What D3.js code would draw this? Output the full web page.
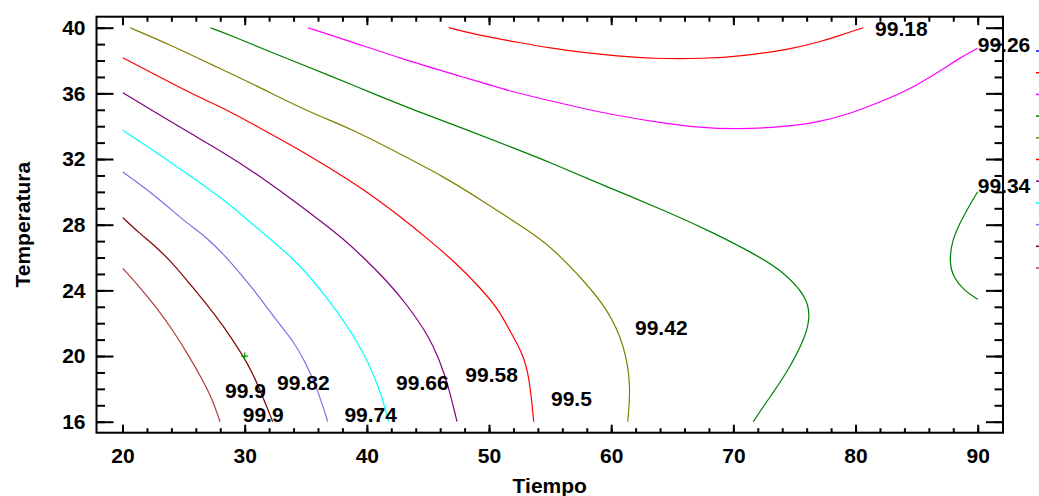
<!DOCTYPE html>
<html>
<head>
<meta charset="utf-8">
<script src="https://cdn.jsdelivr.net/npm/d3@7"></script>
<style>
  body { margin: 0; background: #fff; }
  svg { display: block; }
  text { font-family: "Liberation Sans", Arial, sans-serif; font-weight: bold; }
</style>
</head>
<body>
<svg id="chart" width="1039" height="496"></svg>
<script>
// contour levels and their colours (legend order, top to bottom)
let levels = [99.1, 99.18, 99.26, 99.34, 99.42, 99.5, 99.58, 99.66, 99.74, 99.82, 99.9];
let levelColors = ["#0000ff", "#ff0000", "#ff00ff", "#008000", "#808000", "#ff0000",
                   "#800080", "#00ffff", "#7474e4", "#800000", "#b03c3c"];

// contour lines, [Tiempo, Temperatura]
let c9918 = [[46.70,40.0],[49.48,39.49],[52.21,39.13],[55.07,38.75],[57.72,38.48],[60.45,38.28],
             [63.45,38.11],[67.54,38.11],[70.82,38.28],[74.64,38.68],[77.36,39.19],[79.0,39.60],[80.64,40.0]];
let c9926 = [[35.16,40.0],[38.56,39.19],[42.94,38.08],[47.85,37.0],[51.94,36.08],[55.07,35.54],
             [57.72,35.07],[60.45,34.66],[64.0,34.21],[67.27,33.91],[70.27,33.81],[74.09,33.95],
             [76.82,34.21],[79.55,34.76],[81.73,35.40],[84.19,36.14],[86.92,37.36],[88.55,38.17],[90.0,38.75]];
let c9934 = [[27.19,40.0],[29.02,39.49],[32.56,38.38],[36.93,37.10],[40.20,36.08],[44.02,34.93],
             [48.12,33.81],[51.94,32.69],[55.07,31.78],[59.35,30.40],[64.81,28.73],[68.36,27.51],
             [71.91,26.15],[74.09,25.14],[76.0,23.61],[76.27,22.50],[76.0,21.28],[74.37,18.95],
             [73.0,17.52],[71.63,16.0]];
let c9934b = [[90.0,30.01],[88.82,28.53],[87.87,27.07],[87.68,25.65],[88.0,24.83],[88.82,24.02],[90.0,23.46]];
let c9942 = [[20.61,40.0],[23.97,38.93],[27.24,37.77],[30.93,36.49],[35.03,34.93],[38.84,33.81],
             [42.39,32.43],[46.21,30.97],[49.48,29.45],[53.17,27.66],[55.07,26.66],[57.72,24.63],
             [59.76,22.80],[61.13,20.57],[61.62,18.13],[61.35,16.0]];
let c995 = [[20.02,38.17],[22.88,37.06],[25.75,35.94],[28.20,35.13],[31.20,33.91],[34.20,32.69],
            [36.93,31.47],[39.93,30.05],[42.66,28.53],[45.11,27.07],[47.30,25.65],[49.21,24.22],
            [50.84,22.80],[51.80,21.38],[52.76,20.16],[53.30,18.74],[53.66,16.0]];
let c9958 = [[20.02,36.04],[22.74,34.82],[25.47,33.60],[28.74,32.18],[31.20,30.97],[34.06,29.44],
             [36.39,28.12],[38.02,27.17],[39.66,26.05],[41.57,24.63],[43.21,23.21],[45.11,21.18],
             [45.93,19.76],[46.62,18.34],[47.38,16.0]];
let c9966 = [[20.02,33.75],[22.74,32.43],[25.75,30.86],[28.47,29.44],[31.20,27.66],[34.20,25.85],
             [36.93,23.41],[39.38,20.78],[41.02,18.13],[41.79,16.0]];
let c9974 = [[20.02,31.21],[22.74,29.75],[25.20,28.12],[26.83,27.27],[28.47,26.05],[29.84,24.83],
             [31.20,23.61],[32.56,22.20],[33.93,20.98],[35.02,19.56],[35.98,17.93],[36.80,16.0]];
let c9982 = [[20.02,28.43],[21.38,27.48],[22.74,26.66],[24.11,25.65],[25.47,24.43],[26.83,23.21],
             [28.20,21.89],[29.84,20.06],[30.66,18.95],[31.48,17.52],[32.29,16.0]];
let c999 = [[20.02,25.34],[21.38,24.22],[22.74,23.0],[24.11,21.59],[25.47,19.96],[26.56,18.54],
            [27.38,17.32],[27.98,16.0]];

let contours = [
    {level: 99.18, pts: c9918}, {level: 99.26, pts: c9926}, {level: 99.34, pts: c9934},
    {level: 99.34, pts: c9934b}, {level: 99.42, pts: c9942}, {level: 99.5, pts: c995},
    {level: 99.58, pts: c9958}, {level: 99.66, pts: c9966}, {level: 99.74, pts: c9974},
    {level: 99.82, pts: c9982}, {level: 99.9, pts: c999}
];

// contour labels (left end of baseline, in data units)
let labelText = ["99.18", "99.26", "99.34", "99.42", "99.5", "99.58", "99.66", "99.74", "99.82", "99.9", "99.9"];
let labelTiempo = [81.6, 90.0, 90.0, 61.95, 55.07, 48.06, 42.39, 38.16, 32.65, 28.39, 29.84];
let labelTemp = [39.49, 38.54, 29.9, 21.28, 16.98, 18.4, 17.93, 15.96, 17.93, 17.46, 16.0];

// optimum marker
let optimum = [30, 20];

// ticks
let xTicks = [20, 30, 40, 50, 60, 70, 80, 90];
let yTicks = [16, 20, 24, 28, 32, 36, 40];

let svg = d3.select("#chart");
let margin = {top: 16.7, right: 36, bottom: 63.3, left: 96.5};
let width = 1039 - margin.left - margin.right;
let height = 496 - margin.top - margin.bottom;

let xScale = d3.scaleLinear().domain([17.87, 92.07]).range([0, width]);
let yScale = d3.scaleLinear().domain([15.33, 40.67]).range([height, 0]);

let g = svg.append("g").attr("transform", "translate(" + margin.left + "," + margin.top + ")");

let xMinor = d3.range(20, 91, 2);
let yMinor = d3.range(16, 41, 1);

function styleAxis(sel) {
    sel.select(".domain").remove();
    sel.selectAll("line").attr("stroke", "#000").attr("stroke-width", 2);
    sel.selectAll("text").attr("fill", "#000").style("font-size", "21px")
        .style("font-family", "'Liberation Sans', Arial, sans-serif").style("font-weight", "bold");
}

// bottom
g.append("g").attr("transform", "translate(0," + height + ")")
    .call(d3.axisBottom(xScale).tickValues(xMinor).tickSize(-4.5).tickFormat("")).call(styleAxis);
g.append("g").attr("transform", "translate(0," + height + ")")
    .call(d3.axisBottom(xScale).tickValues(xTicks).tickSize(-8).tickPadding(15).tickFormat(d3.format("d")))
    .call(styleAxis);
// top
g.append("g")
    .call(d3.axisTop(xScale).tickValues(xMinor).tickSize(-5).tickFormat("")).call(styleAxis);
g.append("g")
    .call(d3.axisTop(xScale).tickValues(xTicks).tickSize(-8.5).tickFormat("")).call(styleAxis);
// left
g.append("g")
    .call(d3.axisLeft(yScale).tickValues(yMinor).tickSize(-8.5).tickFormat("")).call(styleAxis);
g.append("g")
    .call(d3.axisLeft(yScale).tickValues(yTicks).tickSize(-17).tickPadding(11).tickFormat(d3.format("d")))
    .call(styleAxis);
// right
g.append("g").attr("transform", "translate(" + width + ",0)")
    .call(d3.axisRight(yScale).tickValues(yMinor).tickSize(-8.5).tickFormat("")).call(styleAxis);
g.append("g").attr("transform", "translate(" + width + ",0)")
    .call(d3.axisRight(yScale).tickValues(yTicks).tickSize(-17).tickFormat("")).call(styleAxis);

// frame
g.append("rect").attr("width", width).attr("height", height)
    .attr("fill", "none").attr("stroke", "#000").attr("stroke-width", 2);

let colorOf = d3.scaleOrdinal().domain(levels).range(levelColors);

let line = d3.line()
    .x(function(d) { return xScale(d[0]); })
    .y(function(d) { return yScale(d[1]); })
    .curve(d3.curveBasis);

g.append("g").selectAll("path")
    .data(contours)
    .enter().append("path")
    .attr("d", function(d) { return line(d.pts); })
    .attr("fill", "none")
    .attr("stroke", function(d) { return colorOf(d.level); })
    .attr("stroke-width", 1.2);

// optimum "+"
let ox = xScale(optimum[0]), oy = yScale(optimum[1]);
g.append("path")
    .attr("d", "M" + (ox - 3.5) + "," + oy + "H" + (ox + 3.5) + "M" + ox + "," + (oy - 3.5) + "V" + (oy + 3.5))
    .attr("stroke", "#00a000").attr("stroke-width", 1.3);

// contour labels
g.append("g").selectAll("text")
    .data(labelText)
    .enter().append("text")
    .attr("x", function(d, i) { return xScale(labelTiempo[i]); })
    .attr("y", function(d, i) { return yScale(labelTemp[i]); })
    .attr("fill", "#000")
    .style("font-size", "21px")
    .text(function(d) { return d; });

// clipped legend swatches at the right edge
svg.append("g").selectAll("line")
    .data(levels)
    .enter().append("line")
    .attr("x1", 1036).attr("x2", 1039)
    .attr("y1", function(d, i) { return 51 + i * 21.7; })
    .attr("y2", function(d, i) { return 51 + i * 21.7; })
    .attr("stroke", function(d) { return colorOf(d); })
    .attr("stroke-width", 1.5);

// axis titles
svg.append("text")
    .attr("x", margin.left + width / 2).attr("y", 493)
    .attr("text-anchor", "middle").style("font-size", "21px")
    .text("Tiempo");
svg.append("text")
    .attr("transform", "translate(30," + (margin.top + height / 2) + ") rotate(-90)")
    .attr("text-anchor", "middle").style("font-size", "21px")
    .text("Temperatura");
</script>
</body>
</html>
